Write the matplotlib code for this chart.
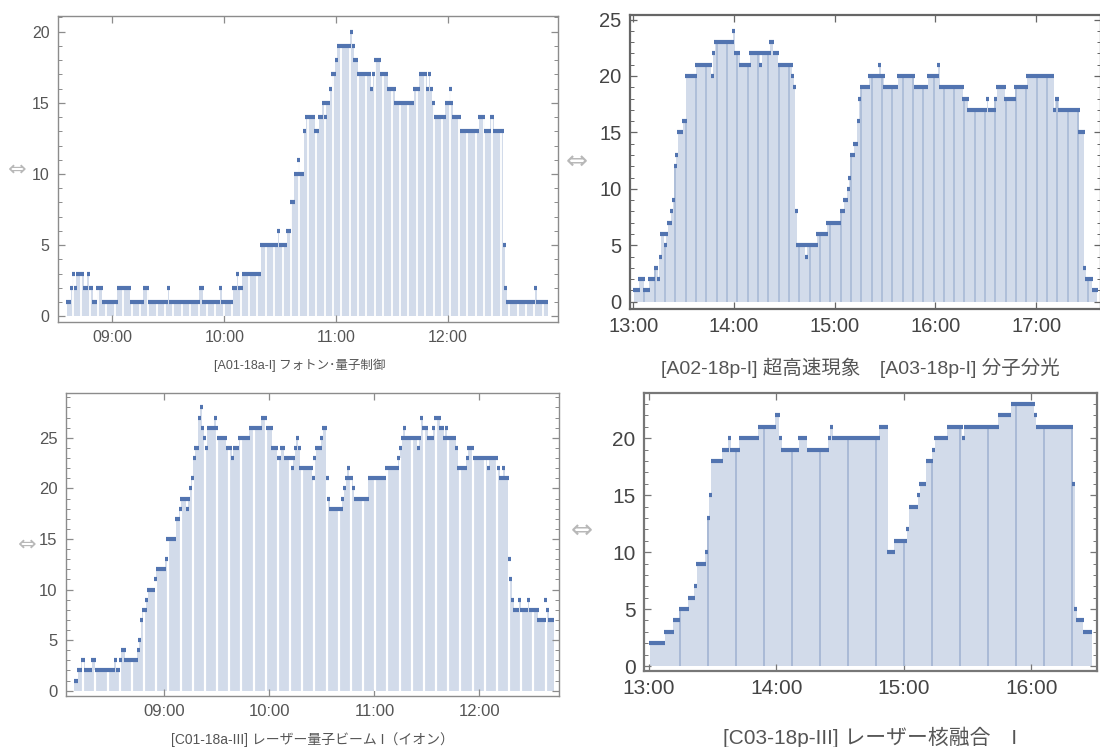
import numpy as np
import matplotlib.pyplot as plt
from matplotlib.ticker import FixedLocator, MultipleLocator, FuncFormatter

plt.rcParams['font.family'] = ['Liberation Sans', 'Noto Sans CJK JP', 'DejaVu Sans']

# 参加者数の推移（時刻ごとに値が変わった点と、その値）
a01_t = ["08:36", "08:38", "08:39", "08:40", "08:41", "08:45", "08:47", "08:48", "08:50", "08:52",
         "08:55", "09:03", "09:10", "09:17", "09:20", "09:30", "09:31", "09:47", "09:49", "09:58",
         "09:59", "10:05", "10:07", "10:08", "10:10", "10:20", "10:29", "10:30", "10:34", "10:36",
         "10:38", "10:40", "10:41", "10:43", "10:44", "10:49", "10:51", "10:53", "10:54", "10:55",
         "10:57", "10:58", "11:00", "11:01", "11:08", "11:09", "11:10", "11:12", "11:19", "11:20",
         "11:21", "11:24", "11:28", "11:32", "11:42", "11:45", "11:49", "11:50", "11:51", "11:52",
         "11:53", "11:59", "12:01", "12:02", "12:03", "12:07", "12:17", "12:20", "12:23", "12:25",
         "12:30", "12:31", "12:32", "12:47", "12:48"]
a01_v = [1, 2, 3, 2, 3, 2, 3, 2, 1, 2,
         1, 2, 1, 2, 1, 2, 1, 2, 1, 2,
         1, 2, 3, 2, 3, 5, 6, 5, 6, 8,
         10, 11, 10, 13, 14, 13, 14, 15, 14, 15,
         16, 17, 18, 19, 20, 19, 18, 17, 16, 17,
         18, 17, 16, 15, 16, 17, 16, 17, 16, 15,
         14, 15, 16, 15, 14, 13, 14, 13, 14, 13,
         5, 2, 1, 2, 1]
a01_end = "12:54"

a02_t = ["13:01", "13:04", "13:07", "13:10", "13:13", "13:15", "13:16", "13:17", "13:19", "13:20",
         "13:21", "13:23", "13:24", "13:25", "13:26", "13:27", "13:30", "13:32", "13:38", "13:47",
         "13:48", "13:49", "14:00", "14:01", "14:04", "14:10", "14:16", "14:17", "14:22", "14:24",
         "14:27", "14:35", "14:36", "14:37", "14:38", "14:43", "14:44", "14:50", "14:56", "15:04",
         "15:06", "15:08", "15:09", "15:10", "15:12", "15:14", "15:15", "15:16", "15:21", "15:27",
         "15:28", "15:30", "15:38", "15:48", "15:56", "16:02", "16:03", "16:17", "16:20", "16:31",
         "16:32", "16:36", "16:37", "16:42", "16:48", "16:55", "17:11", "17:12", "17:14", "17:26",
         "17:29", "17:30", "17:34"]
a02_v = [1, 2, 1, 2, 3, 2, 4, 6, 5, 6,
         7, 8, 9, 12, 13, 15, 16, 20, 21, 20,
         22, 23, 24, 22, 21, 22, 21, 22, 23, 22,
         21, 20, 19, 8, 5, 4, 5, 6, 7, 8,
         9, 10, 11, 13, 14, 16, 18, 19, 20, 21,
         20, 19, 20, 19, 20, 21, 19, 18, 17, 18,
         17, 18, 19, 18, 19, 20, 17, 18, 17, 15,
         3, 2, 1]
a02_end = "17:37"

c01_t = ["08:09", "08:11", "08:13", "08:15", "08:19", "08:21", "08:32", "08:33", "08:35", "08:36",
         "08:38", "08:45", "08:46", "08:47", "08:48", "08:50", "08:51", "08:55", "08:56", "09:01",
         "09:02", "09:07", "09:09", "09:10", "09:13", "09:14", "09:15", "09:16", "09:17", "09:18",
         "09:20", "09:21", "09:22", "09:23", "09:24", "09:25", "09:29", "09:30", "09:31", "09:36",
         "09:39", "09:40", "09:43", "09:49", "09:56", "09:59", "10:02", "10:05", "10:07", "10:09",
         "10:13", "10:14", "10:15", "10:16", "10:17", "10:18", "10:25", "10:26", "10:27", "10:30",
         "10:31", "10:33", "10:34", "10:35", "10:42", "10:43", "10:44", "10:45", "10:46", "10:48",
         "10:49", "10:57", "11:07", "11:14", "11:15", "11:16", "11:17", "11:18", "11:25", "11:26",
         "11:27", "11:28", "11:31", "11:34", "11:35", "11:38", "11:40", "11:41", "11:42", "11:47",
         "11:48", "11:53", "11:54", "11:57", "12:05", "12:06", "12:11", "12:12", "12:14", "12:15",
         "12:17", "12:18", "12:19", "12:20", "12:23", "12:24", "12:28", "12:29", "12:34", "12:38",
         "12:39", "12:40"]
c01_v = [1, 2, 3, 2, 3, 2, 3, 2, 3, 4,
         3, 4, 5, 7, 8, 9, 10, 11, 12, 13,
         15, 17, 18, 19, 18, 19, 20, 21, 23, 24,
         27, 28, 26, 25, 24, 26, 27, 26, 25, 24,
         23, 24, 25, 26, 27, 26, 24, 23, 24, 23,
         22, 23, 24, 25, 24, 22, 21, 23, 24, 25,
         26, 21, 19, 18, 19, 20, 21, 22, 21, 20,
         19, 21, 22, 23, 24, 25, 26, 25, 24, 25,
         27, 26, 25, 26, 27, 26, 25, 26, 25, 24,
         22, 23, 24, 23, 22, 23, 22, 21, 22, 21,
         13, 11, 9, 8, 9, 8, 9, 8, 7, 9,
         8, 7]
c01_end = "12:43"

c03_t = ["13:01", "13:08", "13:12", "13:15", "13:19", "13:22", "13:23", "13:27", "13:28", "13:29",
         "13:30", "13:35", "13:38", "13:39", "13:43", "13:52", "14:00", "14:02", "14:03", "14:11",
         "14:15", "14:25", "14:26", "14:27", "14:49", "14:53", "14:56", "15:02", "15:03", "15:07",
         "15:08", "15:11", "15:14", "15:15", "15:21", "15:28", "15:29", "15:45", "15:51", "16:02",
         "16:03", "16:20", "16:21", "16:22", "16:25"]
c03_v = [2, 3, 4, 5, 6, 7, 9, 10, 13, 15,
         18, 19, 20, 19, 20, 21, 22, 20, 19, 20,
         19, 20, 21, 20, 21, 10, 11, 12, 14, 15,
         16, 18, 19, 20, 21, 20, 21, 22, 23, 22,
         21, 16, 5, 4, 3]
c03_end = "16:29"

titles = ["[A01-18a-I] フォトン･量子制御",
          "[A02-18p-I] 超高速現象　[A03-18p-I] 分子分光",
          "[C01-18a-III] レーザー量子ビーム I（イオン）",
          "[C03-18p-III] レーザー核融合　I"]

DOT = '#5274b0'
FILL = '#d2dbea'


def hm(s):
    h, m = s.split(':')
    return int(h) * 60 + int(m)


def hhmm(x, pos=None):
    x = int(round(x))
    return f"{x // 60:02d}:{x % 60:02d}"


fig = plt.figure(figsize=(11, 7.47), dpi=100)


def panel(rect, starts, vals, end, xlim, ylim, yticks, stripes, st_color, st_lw,
          fs, tfs, gfs, spine_c, spine_lw, lab_c, dot_hw, title, title_xy, glyph_xy):
    assert len(starts) == len(vals)
    ax = fig.add_axes(rect)
    t = np.array([hm(s) for s in starts] + [hm(end)], float)
    v = np.array(vals, float)

    # 塗りつぶし（ステップ状）
    ax.fill_between(t - 0.5, np.r_[v, v[-1]], step='post', color=FILL, lw=0, zorder=1)

    # 塗りの中の縦の区切り線
    st = np.arange(stripes[0], t[-1] - 0.5, stripes[1])
    st = st[st > t[0]]
    idx = np.searchsorted(t - 0.5, st, side='right') - 1
    ax.vlines(st, 0, v[idx], color=st_color, lw=st_lw, zorder=2)

    # 各区間の点列
    ax.hlines(v, t[:-1] - dot_hw, t[1:] - 1 + dot_hw, color=DOT, lw=3.0, zorder=3)

    ax.set_xlim(*xlim)
    ax.set_ylim(*ylim)
    hours = np.arange(np.ceil(xlim[0] / 60) * 60, xlim[1], 60)
    ax.xaxis.set_major_locator(FixedLocator(hours))
    ax.xaxis.set_major_formatter(FuncFormatter(hhmm))
    ax.yaxis.set_major_locator(FixedLocator(yticks))
    ax.yaxis.set_minor_locator(MultipleLocator(1))
    ax.tick_params(which='both', direction='in', top=True, right=True,
                   color=spine_c, labelcolor=lab_c, labelsize=fs)
    ax.tick_params(which='major', length=5, width=0.9, pad=6)
    ax.tick_params(which='minor', length=2.8, width=0.7)
    for s in ax.spines.values():
        s.set_color(spine_c)
        s.set_linewidth(spine_lw)

    fig.text(title_xy[0] / 1100, 1 - title_xy[1] / 747, title, ha='center', va='center',
             fontsize=tfs, color='#555555')
    fig.text(glyph_xy[0] / 1100, 1 - glyph_xy[1] / 747, "⇔", ha='center', va='center',
             fontsize=gfs, color='#b8b8b8', family='DejaVu Sans')
    return ax


panel([0.0526, 0.5693, 0.4545, 0.4092], a01_t, a01_v, a01_end,
      (510.7, 778.8), (-0.38, 21.1), [0, 5, 10, 15, 20], (518.7, 4.5), 'white', 1.3,
      11.5, 9, 16, '#8c8c8c', 1.0, '#555555', 0.8,
      titles[0], (300, 365), (17, 170))

panel([0.5726, 0.5863, 0.4282, 0.3936], a02_t, a02_v, a02_end,
      (778.0, 1058.6), (-0.65, 25.4), [0, 5, 10, 15, 20, 25], (786.7, 6.15), '#a9bad6', 1.2,
      14.5, 14, 19, '#666666', 1.6, '#444444', 0.9,
      titles[1], (860, 368), (577, 162))

panel([0.0600, 0.0683, 0.4482, 0.4052], c01_t, c01_v, c01_end,
      (483.8, 765.5), (-0.52, 29.4), [0, 5, 10, 15, 20, 25], (493.7, 6.95), 'white', 1.6,
      12, 10, 16, '#8c8c8c', 1.0, '#555555', 0.85,
      titles[2], (312, 740), (27, 545))

panel([0.5852, 0.1017, 0.4121, 0.3726], c03_t, c03_v, c03_end,
      (777.6, 991.0), (-0.44, 24.0), [0, 5, 10, 15, 20], (794.6, 13.2), '#a9bad6', 1.4,
      15, 15, 19, '#777777', 1.6, '#444444', 0.7,
      titles[3], (870, 737), (582, 531))

fig.savefig('out.png', dpi=100)
